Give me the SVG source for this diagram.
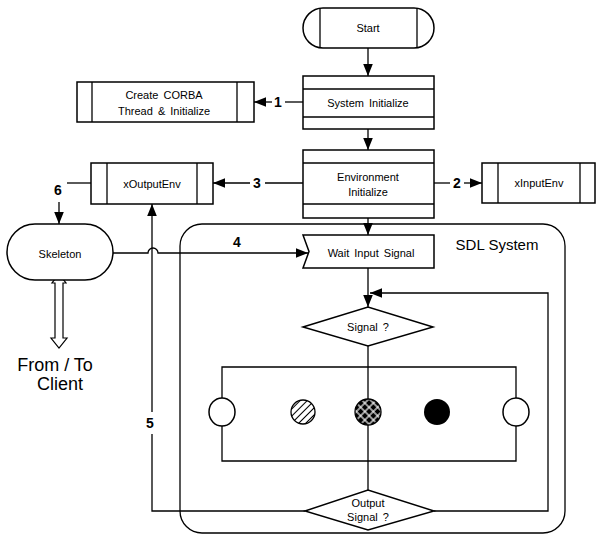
<svg xmlns="http://www.w3.org/2000/svg" width="597" height="535" viewBox="0 0 597 535">
<defs>
<style>
.b{fill:#fff;stroke:#000;stroke-width:1.5}
.l{fill:none;stroke:#000;stroke-width:1.3}
.t{font-family:"Liberation Sans",Arial,sans-serif;font-size:11px;text-anchor:middle;fill:#000;word-spacing:2px}
.n{font-family:"Liberation Sans",Arial,sans-serif;font-size:14px;font-weight:bold;text-anchor:middle;fill:#000}
</style>
<marker id="ah" viewBox="0 0 10 8" refX="10" refY="4" markerWidth="12" markerHeight="10" markerUnits="userSpaceOnUse" orient="auto">
<path d="M0,0 L10,4 L0,8 Z" fill="#000"/>
</marker>
<pattern id="hatch" width="5" height="5" patternUnits="userSpaceOnUse" patternTransform="rotate(45)">
<rect width="5" height="5" fill="#fff"/>
<line x1="0" y1="0" x2="0" y2="5" stroke="#000" stroke-width="2"/>
</pattern>
<pattern id="xhatch" width="6" height="6" patternUnits="userSpaceOnUse" patternTransform="rotate(45)">
<rect width="6" height="6" fill="#000"/>
<line x1="3" y1="0" x2="3" y2="6" stroke="#fff" stroke-width="1.2"/>
<line x1="0" y1="3" x2="6" y2="3" stroke="#fff" stroke-width="1.2"/>
</pattern>
</defs>
<rect width="597" height="535" fill="#fff"/>

<g id="sdl-system">
<rect x="180" y="224" width="385" height="309" rx="22" class="l" stroke-width="1.4"/>
<text x="497" y="250" font-family="'Liberation Sans',Arial,sans-serif" font-size="15" text-anchor="middle">SDL System</text>
</g>

<g id="connectors">
<line x1="368" y1="48" x2="368" y2="76" class="l" marker-end="url(#ah)"/>
<line x1="368" y1="129" x2="368" y2="150" class="l" marker-end="url(#ah)"/>
<line x1="368" y1="218" x2="368" y2="235" class="l" marker-end="url(#ah)"/>
<line x1="368" y1="268" x2="368" y2="307" class="l" marker-end="url(#ah)"/>
<line x1="303" y1="102" x2="285" y2="102" class="l"/>
<line x1="272" y1="102" x2="254" y2="102" class="l" marker-end="url(#ah)"/>
<text x="278" y="107" class="n">1</text>
<line x1="434" y1="183" x2="450" y2="183" class="l"/>
<line x1="464" y1="183" x2="482" y2="183" class="l" marker-end="url(#ah)"/>
<text x="457" y="188" class="n">2</text>
<line x1="303" y1="183" x2="265" y2="183" class="l"/>
<line x1="250" y1="183" x2="213" y2="183" class="l" marker-end="url(#ah)"/>
<text x="257" y="188" class="n">3</text>
<line x1="91" y1="183" x2="67" y2="183" class="l"/>
<text x="58" y="195" class="n">6</text>
<line x1="59" y1="202" x2="59" y2="224" class="l" marker-end="url(#ah)"/>
<path d="M113,253 L148,253 A5,5 0 0 1 158,253 L308,253" class="l" marker-end="url(#ah)"/>
<text x="237" y="247" class="n">4</text>
<path d="M305,511 L152,511 L152,434" class="l"/>
<line x1="152" y1="412" x2="152" y2="204" class="l" marker-end="url(#ah)"/>
<text x="150" y="428" class="n">5</text>
<path d="M434,511 L548,511 L548,293 L370,293" class="l" marker-end="url(#ah)"/>
<line x1="368" y1="346" x2="368" y2="399" class="l"/>
<line x1="368" y1="425" x2="368" y2="490" class="l"/>
<path d="M222,398 L222,367 L516,367 L516,398" class="l"/>
<path d="M222,426 L222,461 L516,461 L516,426" class="l"/>
</g>

<g id="start">
<rect x="303" y="8" width="131" height="40" rx="20" class="b"/>
<line x1="320" y1="8" x2="320" y2="48" class="l"/>
<line x1="417" y1="8" x2="417" y2="48" class="l"/>
<text x="368" y="32" class="t">Start</text>
</g>

<g id="system-initialize">
<rect x="303" y="76" width="131" height="53" class="b"/>
<line x1="303" y1="89" x2="434" y2="89" class="l"/>
<line x1="303" y1="117" x2="434" y2="117" class="l"/>
<text x="368" y="107" class="t">System Initialize</text>
</g>

<g id="create-corba">
<rect x="77" y="82" width="177" height="40" class="b"/>
<line x1="92" y1="82" x2="92" y2="122" class="l"/>
<line x1="237" y1="82" x2="237" y2="122" class="l"/>
<text x="164" y="99" class="t">Create CORBA</text>
<text x="164" y="115" class="t">Thread &amp; Initialize</text>
</g>

<g id="environment-initialize">
<rect x="303" y="150" width="131" height="68" class="b"/>
<line x1="303" y1="163" x2="434" y2="163" class="l"/>
<line x1="303" y1="204" x2="434" y2="204" class="l"/>
<text x="368" y="181" class="t">Environment</text>
<text x="368" y="196" class="t">Initialize</text>
</g>

<g id="xinputenv">
<rect x="482" y="163" width="113" height="40" class="b"/>
<line x1="498" y1="163" x2="498" y2="203" class="l"/>
<line x1="580" y1="163" x2="580" y2="203" class="l"/>
<text x="539" y="187" class="t">xInputEnv</text>
</g>

<g id="xoutputenv">
<rect x="91" y="163" width="122" height="41" class="b"/>
<line x1="107" y1="163" x2="107" y2="204" class="l"/>
<line x1="197" y1="163" x2="197" y2="204" class="l"/>
<text x="152" y="188" class="t">xOutputEnv</text>
</g>

<g id="client-arrow">
<path d="M59,274 L66,283 L63,283 L63,338 L67,338 L59,348 L51,338 L55,338 L55,283 L52,283 Z" fill="#fff" stroke="#000" stroke-width="1.2"/>
<text x="55" y="371" font-family="'Liberation Sans',Arial,sans-serif" font-size="18" text-anchor="middle">From / To</text>
<text x="60" y="390" font-family="'Liberation Sans',Arial,sans-serif" font-size="18" text-anchor="middle">Client</text>
</g>

<g id="skeleton">
<rect x="7" y="224" width="106" height="56" rx="28" class="b"/>
<text x="60" y="258" class="t">Skeleton</text>
</g>

<g id="wait-input-signal">
<path d="M303,235 L434,235 L434,268 L303,268 L309,251.5 Z" class="b"/>
<text x="371" y="257" class="t">Wait Input Signal</text>
</g>

<g id="signal-decision">
<polygon points="303,327 368,307 433,327 368,346" class="b"/>
<text x="368" y="331" class="t">Signal ?</text>
</g>

<g id="signal-left-oval">
<ellipse cx="222" cy="412" rx="13" ry="14" class="b" stroke-width="1.3"/>
</g>
<g id="signal-hatched">
<circle cx="303" cy="412" r="12" fill="url(#hatch)" stroke="#000" stroke-width="1.3"/>
</g>
<g id="signal-crosshatched">
<circle cx="368" cy="412" r="13" fill="url(#xhatch)" stroke="#000" stroke-width="1.3"/>
</g>
<g id="signal-black">
<circle cx="437" cy="412" r="13" fill="#000"/>
</g>
<g id="signal-right-oval">
<ellipse cx="516" cy="412" rx="13" ry="14" class="b" stroke-width="1.3"/>
</g>

<g id="output-signal-decision">
<polygon points="305,511 368,490 434,511 368,530" class="b"/>
<text x="368" y="507" class="t">Output</text>
<text x="368" y="521" class="t">Signal ?</text>
</g>
</svg>
